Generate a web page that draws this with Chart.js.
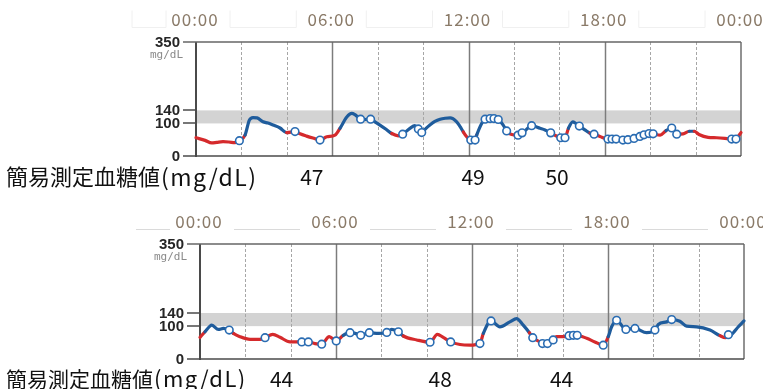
<!DOCTYPE html>
<html><head><meta charset="utf-8">
<script src="https://cdn.jsdelivr.net/npm/chart.js@4.4.1/dist/chart.umd.min.js"></script>
<style>
html,body{margin:0;padding:0;background:#fff;width:763px;height:389px;overflow:hidden}
canvas{position:absolute;left:0}
#c1{top:0}
#c2{top:195px}
</style></head><body>
<canvas id="c1" width="763" height="195"></canvas>
<canvas id="c2" width="763" height="194"></canvas>
<script>
// ---- axis / labels ----
const timeTicks = [0, 6, 12, 18, 24];
const timeLabels = ['00:00', '06:00', '12:00', '18:00', '00:00'];
const yTicks = [0, 100, 140, 350];
const yUnit = 'mg/dL';
const targetLow = 100, targetHigh = 140;
const lowLimit = 75;
const rowTitle = '簡易測定血糖値';
const rowUnit = '(mg/dL)';

// ---- day 1 (top) sensor curve ----
const day1Hours = [0.00,0.40,0.69,0.92,1.19,1.45,1.72,1.91,2.16,2.35,2.51,2.69,2.95,3.17,3.39,3.70,3.99,4.36,4.58,4.87,5.15,5.46,5.76,6.12,6.34,6.64,6.86,7.00,7.25,7.44,7.69,7.88,8.10,8.37,8.62,8.91,9.10,9.42,9.64,9.79,9.94,10.13,10.30,10.52,10.75,10.97,11.19,11.48,11.63,11.77,11.92,12.10,12.29,12.36,12.58,12.73,12.95,13.12,13.31,13.53,13.68,13.90,14.18,14.36,14.53,14.78,15.15,15.37,15.62,15.85,16.06,16.25,16.40,16.59,16.73,16.88,17.13,17.35,17.53,17.79,18.14,18.32,18.50,18.80,19.02,19.29,19.55,19.73,19.95,20.13,20.44,20.70,20.95,21.17,21.45,21.72,21.94,22.15,22.55,22.93,23.44,23.59,23.78,23.93,24.00];
const day1Glucose = [56,48,40,42,44,43,41,47,64,110,118,117,105,101,95,86,72,75,68,61,55,49,59,64,85,120,131,127,113,112,113,105,95,82,69,62,67,85,93,83,72,85,95,106,113,116,117,105,90,74,59,49,49,64,100,113,115,115,112,95,77,66,64,71,80,93,85,80,71,62,56,56,85,105,100,92,80,70,67,60,52,52,52,49,50,54,60,65,69,68,64,78,86,67,68,76,76,66,57,56,53,52,52,65,72];
// scanned readings (circles)
const day1ScanHours = [1.91,4.36,5.46,7.25,7.69,9.10,9.79,9.94,12.10,12.29,12.73,12.95,13.12,13.31,13.68,14.18,14.36,14.78,15.62,16.06,16.25,16.88,17.53,18.14,18.32,18.50,18.80,19.02,19.29,19.55,19.73,19.95,20.13,20.95,21.17,23.59,23.78];
const day1ScanGlucose = [47,75,49,113,113,67,83,72,49,49,113,115,115,112,77,64,71,93,71,56,56,92,67,52,52,52,49,50,54,60,65,69,68,86,67,52,52];
// finger-stick readings
const day1FingerHours = [5.1, 12.2, 15.9];
const day1FingerValues = [47, 49, 50];

// ---- day 2 (bottom) sensor curve ----
const day2Hours = [0.00,0.22,0.44,0.52,0.81,1.03,1.29,1.47,1.76,2.21,2.65,2.87,3.21,3.53,3.97,4.27,4.49,4.78,5.07,5.37,5.70,6.01,6.32,6.62,6.84,7.09,7.47,7.87,8.24,8.46,8.75,8.97,9.56,10.15,10.47,10.73,11.06,11.47,11.91,12.35,12.50,12.84,13.23,13.67,13.97,14.26,14.53,14.68,15.00,15.11,15.33,15.58,15.73,16.03,16.28,16.47,16.64,17.06,17.42,17.79,18.01,18.16,18.38,18.79,19.19,19.70,20.07,20.22,20.59,20.81,21.17,21.47,21.91,22.50,22.94,23.18,23.38,23.53,23.75,24.00];
const day2Glucose = [66,83,100,103,90,93,88,78,68,60,60,65,75,66,52,52,52,52,47,45,68,55,72,80,78,72,80,78,81,90,83,70,58,51,75,66,52,44,42,47,78,116,98,113,123,103,80,65,52,47,47,58,68,68,71,72,72,63,52,42,68,98,118,90,93,80,88,105,113,120,115,100,98,88,71,65,70,80,98,116];
const day2ScanHours = [1.29,2.87,4.49,4.78,5.37,6.01,6.62,7.09,7.47,8.24,8.75,10.15,11.06,12.35,12.84,14.68,15.11,15.33,15.58,16.28,16.47,16.64,17.79,18.38,18.79,19.19,20.07,20.81,23.31];
const day2ScanGlucose = [88,65,52,52,45,55,80,72,80,81,83,51,52,47,116,65,47,47,58,71,72,72,42,118,90,93,88,120,74];
const day2FingerHours = [3.6, 10.6, 15.95];
const day2FingerValues = [44, 48, 44];

// ---- styles ----
const BLUE = '#1f5c9c';
const RED = '#d52a2c';
const SCAN_EDGE = '#2a6cb2';
const TIME_COLOR = '#8a7a68';

const toXY = (xs, ys) => xs.map((h, i) => ({x: h, y: ys[i]}));

function makeDeco(cfg) {
  return {
    id: 'deco',
    beforeDatasetsDraw(chart) {
      const {ctx, chartArea: a, scales: {x, y}} = chart;
      ctx.save();
      // target band
      const yb1 = y.getPixelForValue(targetHigh), yb0 = y.getPixelForValue(targetLow);
      ctx.fillStyle = '#d3d3d3';
      ctx.fillRect(a.left, yb1, a.right - a.left, yb0 - yb1);
      // vertical grid every 2 h
      for (let h = 2; h < 24; h += 2) {
        const px = Math.round(x.getPixelForValue(h)) + 0.5;
        ctx.beginPath();
        if (h % 6 === 0) { ctx.strokeStyle = '#7c7c7c'; ctx.lineWidth = 1.5; ctx.setLineDash([]); }
        else { ctx.strokeStyle = '#a6a6a6'; ctx.lineWidth = 1; ctx.setLineDash([3, 2]); }
        ctx.moveTo(px, a.top); ctx.lineTo(px, a.bottom); ctx.stroke();
      }
      ctx.setLineDash([]);
      // frame
      ctx.strokeStyle = '#6e6e6e'; ctx.lineWidth = 1.5;
      ctx.beginPath(); ctx.moveTo(a.right, a.top); ctx.lineTo(a.right, a.bottom); ctx.stroke();
      ctx.strokeStyle = '#4a4a4a'; ctx.lineWidth = 2;
      ctx.beginPath(); ctx.moveTo(a.left, a.top); ctx.lineTo(a.left, a.bottom + 1); ctx.stroke();
      // y ticks
      ctx.lineWidth = 1.5;
      yTicks.forEach(v => {
        const py = Math.round(y.getPixelForValue(v));
        ctx.strokeStyle = v === 350 ? '#666' : '#4a4a4a';
        ctx.beginPath(); ctx.moveTo(a.left - 13, py); ctx.lineTo(v === 0 || v === 350 ? a.right : a.left, py); ctx.stroke();
      });
      // y labels
      ctx.fillStyle = '#262626';
      ctx.font = 'bold 15px "Liberation Sans", Arial, sans-serif';
      ctx.textAlign = 'right'; ctx.textBaseline = 'middle';
      yTicks.forEach(v => ctx.fillText(String(v), a.left - 16, y.getPixelForValue(v) + 0.5));
      ctx.fillStyle = '#8a8a8a';
      ctx.font = '11px "DejaVu Sans Mono", monospace';
      ctx.fillText(yUnit, a.left - 13, y.getPixelForValue(350) + 13);
      // time labels + separator lines
      const ly = a.top - 22;
      ctx.font = '17px "Noto Sans CJK JP", sans-serif';
      ctx.letterSpacing = '1px';
      ctx.textAlign = 'center';
      ctx.fillStyle = TIME_COLOR;
      timeTicks.forEach((h, i) => ctx.fillText(timeLabels[i], x.getPixelForValue(h) - 1, ly));
      ctx.letterSpacing = '0px';
      ctx.strokeStyle = cfg.sepColor; ctx.lineWidth = 1;
      const sy = Math.round(a.top - 15) + 0.5;
      const segs = [[x.getPixelForValue(0) - 64, x.getPixelForValue(0) - 30]];
      for (let i = 0; i < timeTicks.length - 1; i++) {
        segs.push([x.getPixelForValue(timeTicks[i]) + 34, x.getPixelForValue(timeTicks[i + 1]) - 36]);
      }
      segs.forEach(([s, e]) => {
        ctx.beginPath();
        if (cfg.boxes) { ctx.moveTo(s, sy - 17); ctx.lineTo(s, sy); ctx.lineTo(e, sy); ctx.lineTo(e, sy - 17); }
        else { ctx.moveTo(s, sy); ctx.lineTo(e, sy); }
        ctx.stroke();
      });
      ctx.restore();
    },
    afterDraw(chart) {
      const {ctx, chartArea: a, scales: {x}} = chart;
      ctx.save();
      ctx.fillStyle = '#111';
      ctx.textBaseline = 'middle';
      ctx.font = cfg.titleSize + 'px "Noto Sans CJK JP", sans-serif';
      ctx.textAlign = 'left';
      const ry = a.bottom + cfg.rowGap;
      ctx.fillText(rowTitle, 6, ry);
      const tw = ctx.measureText(rowTitle).width;
      ctx.font = (cfg.titleSize + 1) + 'px "Noto Sans CJK JP", sans-serif';
      ctx.letterSpacing = '1.5px';
      ctx.fillText(rowUnit, 6 + tw + 1, ry);
      ctx.letterSpacing = '0px';
      ctx.textAlign = 'center';
      ctx.font = '21px "Noto Sans CJK JP", sans-serif';
      cfg.fingerHours.forEach((h, i) => ctx.fillText(String(cfg.fingerValues[i]), x.getPixelForValue(h), ry));
      ctx.restore();
    }
  };
}

function makeChart(id, hours, glucose, scanH, scanG, deco, pad) {
  return new Chart(document.getElementById(id), {
    type: 'line',
    data: {
      datasets: [
        {
          type: 'scatter',
          data: toXY(scanH, scanG),
          showLine: false,
          pointRadius: 3.8,
          pointBorderWidth: 1.6,
          pointBackgroundColor: '#ffffff',
          pointBorderColor: SCAN_EDGE
        },
        {
          data: toXY(hours, glucose),
          borderWidth: 3.2,
          borderColor: BLUE,
          pointRadius: 0,
          cubicInterpolationMode: 'monotone',
          borderCapStyle: 'round',
          borderJoinStyle: 'round',
          clip: false,
          segment: {
            borderColor: c => ((c.p0.parsed.y + c.p1.parsed.y) / 2 < lowLimit ? RED : BLUE)
          }
        }
      ]
    },
    options: {
      responsive: false,
      animation: false,
      devicePixelRatio: 1,
      layout: {padding: pad},
      plugins: {legend: {display: false}, tooltip: {enabled: false}},
      scales: {
        x: {type: 'linear', min: 0, max: 24, display: false},
        y: {type: 'linear', min: 0, max: 350, display: false}
      }
    },
    plugins: [makeDeco(deco)]
  });
}

makeChart('c1', day1Hours, day1Glucose, day1ScanHours, day1ScanGlucose,
  {fingerHours: day1FingerHours, fingerValues: day1FingerValues, sepColor: '#f0f0f0', boxes: true, titleSize: 22, rowGap: 21},
  {left: 196, right: 22, top: 42, bottom: 39});
makeChart('c2', day2Hours, day2Glucose, day2ScanHours, day2ScanGlucose,
  {fingerHours: day2FingerHours, fingerValues: day2FingerValues, sepColor: '#dadada', boxes: false, titleSize: 21, rowGap: 20},
  {left: 200, right: 19, top: 49, bottom: 30});
</script>
</body></html>
